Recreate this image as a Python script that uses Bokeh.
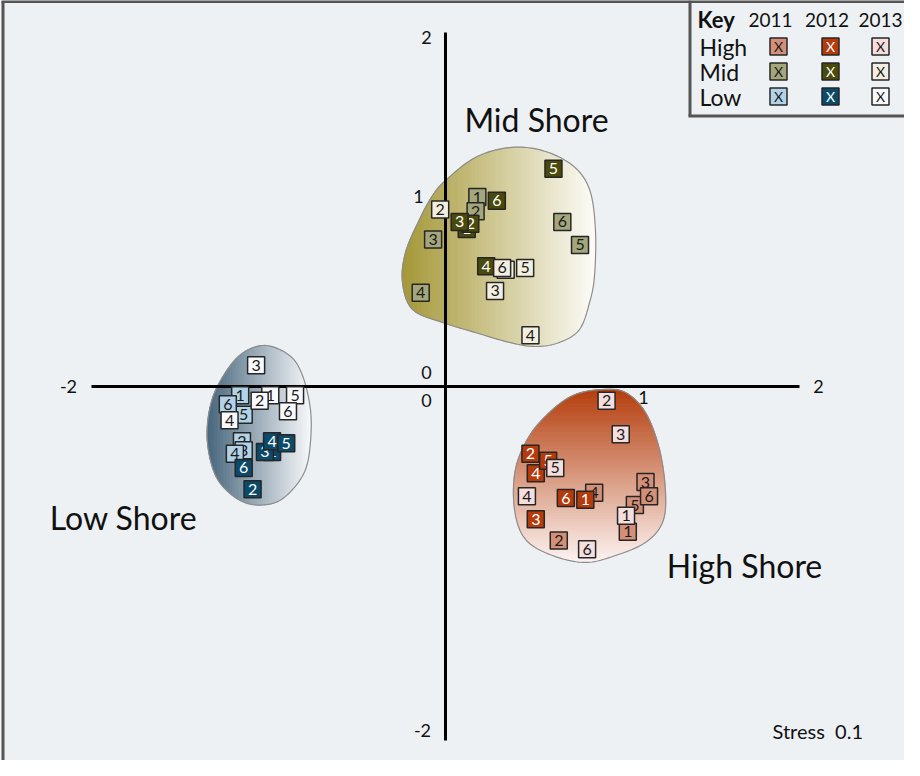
import numpy as np
from bokeh.plotting import figure
from bokeh.models import Range1d
from bokeh.embed import file_html
from bokeh.resources import INLINE
from bokeh.core.properties import value

# ---------------- data (NMDS coordinates) ----------------
sites = ["1", "2", "3", "4", "5", "6"]
years = ["2011", "2012", "2013"]
zones = ["High", "Mid", "Low"]

high_2011_x = [1.03, 0.64, 1.13, 0.84, 1.07, 1.15]
high_2011_y = [-0.82, -0.87, -0.54, -0.60, -0.67, -0.62]
high_2012_x = [0.79, 0.48, 0.51, 0.51, 0.58, 0.68]
high_2012_y = [-0.64, -0.38, -0.75, -0.49, -0.42, -0.63]
high_2013_x = [1.02, 0.91, 0.99, 0.46, 0.62, 0.80]
high_2013_y = [-0.73, -0.08, -0.27, -0.62, -0.46, -0.92]

mid_2011_x = [0.18, 0.17, -0.07, -0.14, 0.76, 0.66]
mid_2011_y = [1.07, 0.99, 0.83, 0.53, 0.80, 0.93]
mid_2012_x = [0.12, 0.14, 0.08, 0.23, 0.61, 0.29]
mid_2012_y = [0.89, 0.92, 0.93, 0.68, 1.23, 1.05]
mid_2013_x = [0.34, -0.03, 0.28, 0.48, 0.45, 0.32]
mid_2013_y = [0.66, 1.00, 0.54, 0.29, 0.67, 0.67]

low_2011_x = [-1.16, -1.15, -1.14, -1.19, -1.14, -1.23]
low_2011_y = [-0.05, -0.31, -0.36, -0.38, -0.16, -0.10]
low_2012_x = [-0.98, -1.09, -1.02, -0.98, -0.90, -1.14]
low_2012_y = [-0.37, -0.58, -0.37, -0.31, -0.32, -0.46]
low_2013_x = [-0.99, -1.05, -1.07, -1.22, -0.85, -0.89]
low_2013_y = [-0.05, -0.08, 0.12, -0.19, -0.05, -0.14]

# group outlines (hull shapes around each shore zone)
mid_hull_x = [0.000, 0.169, 0.362, 0.548, 0.718, 0.814, 0.847, 0.842, 0.814, 0.757,
              0.644, 0.508, 0.362, 0.169, -0.017, -0.186, -0.243, -0.226, -0.147, -0.073]
mid_hull_y = [1.164, 1.294, 1.350, 1.333, 1.249, 1.113, 0.887, 0.627, 0.475, 0.322,
              0.249, 0.226, 0.249, 0.305, 0.362, 0.435, 0.588, 0.757, 0.944, 1.079]
low_hull_x = [-1.023, -0.881, -0.808, -0.763, -0.763, -0.791, -0.864, -0.960, -1.090,
              -1.203, -1.299, -1.345, -1.333, -1.277, -1.164]
low_hull_y = [0.232, 0.175, 0.062, -0.130, -0.316, -0.469, -0.582, -0.655, -0.667,
              -0.616, -0.503, -0.316, -0.130, 0.023, 0.175]
high_hull_x = [0.887, 1.017, 1.130, 1.209, 1.243, 1.226, 1.130, 0.960, 0.791, 0.605,
               0.452, 0.390, 0.395, 0.475, 0.605, 0.734]
high_hull_y = [-0.017, -0.034, -0.147, -0.356, -0.599, -0.768, -0.881, -0.955, -0.994,
               -0.955, -0.864, -0.695, -0.469, -0.277, -0.130, -0.045]

zone_labels = ["High Shore", "Mid Shore", "Low Shore"]
stress_label = "Stress\u00a0\u00a00.1"
axis_limit = 2

# ---------------- styling ----------------
BG = "#edf1f4"
FONT = value("Lato")
fills = {
    ("High", "2011"): "#d48f78", ("High", "2012"): "#b53a0c", ("High", "2013"): "#f4dede",
    ("Mid", "2011"): "#a4a67b", ("Mid", "2012"): "#4a4a0c", ("Mid", "2013"): "#f2efe0",
    ("Low", "2011"): "#b2d2e7", ("Low", "2012"): "#0c4a6a", ("Low", "2013"): "#f8f9fa",
}
textc = {"2011": "#1a1a1a", "2012": "#ffffff", "2013": "#1a1a1a"}

# screen-pixel helpers (page px -> data units) for annotations
X0, Y0, S = 453.0, 394.0, 177.0
def px(X):
    return (X - X0) / S
def py(Y):
    return (Y0 - Y) / S

W, H = 904, 760
p = figure(width=W, height=H, output_backend="svg", toolbar_location=None,
           x_range=Range1d(px(8), px(8 + W)), y_range=Range1d(py(8 + H), py(8)),
           x_axis_type=None, y_axis_type=None, min_border=0)
p.grid.visible = False
p.outline_line_color = None
p.background_fill_color = BG
p.border_fill_color = BG

# ---------------- helpers ----------------
def smooth_closed(xs, ys, n=14):
    P = np.column_stack([xs, ys])
    N = len(P)
    out = []
    for i in range(N):
        p0, p1, p2, p3 = P[(i - 1) % N], P[i], P[(i + 1) % N], P[(i + 2) % N]
        for t in np.linspace(0, 1, n, endpoint=False):
            t2, t3 = t * t, t * t * t
            out.append(0.5 * ((2 * p1) + (-p0 + p2) * t + (2 * p0 - 5 * p1 + 4 * p2 - p3) * t2
                              + (-p0 + 3 * p1 - 3 * p2 + p3) * t3))
    out = np.array(out)
    return out[:, 0], out[:, 1]

def clip_half(pts, axis, val, keep_greater):
    res = []
    n = len(pts)
    for i in range(n):
        cur, prev = pts[i], pts[i - 1]
        cin = cur[axis] >= val if keep_greater else cur[axis] <= val
        pin = prev[axis] >= val if keep_greater else prev[axis] <= val
        if cin != pin:
            t = (val - prev[axis]) / (cur[axis] - prev[axis])
            res.append((prev[0] + t * (cur[0] - prev[0]), prev[1] + t * (cur[1] - prev[1])))
        if cin:
            res.append(cur)
    return res

def hexrgb(h):
    h = h.lstrip("#")
    return np.array([int(h[i:i + 2], 16) for i in (0, 2, 4)], float)

def mix(c1, c2, f):
    c = hexrgb(c1) * (1 - f) + hexrgb(c2) * f
    return "#%02x%02x%02x" % tuple(int(round(v)) for v in c)

def gradient_blob(hx, hy, axis, c_start, c_end, nsl=70):
    sx, sy = smooth_closed(hx, hy)
    pts = list(zip(sx, sy))
    coord = sx if axis == 0 else sy
    lo, hi = coord.min(), coord.max()
    edges = np.linspace(lo, hi, nsl + 1)
    xs_l, ys_l, cols = [], [], []
    for k in range(nsl):
        a, b = edges[k], edges[k + 1]
        piece = clip_half(clip_half(pts, axis, a, True), axis, b, False)
        if len(piece) < 3:
            continue
        f = (k + 0.5) / nsl
        if axis == 1:
            f = 1 - f  # top -> bottom
        cols.append(mix(c_start, c_end, f))
        xs_l.append([q[0] for q in piece])
        ys_l.append([q[1] for q in piece])
    p.patches(xs_l, ys_l, fill_color=cols, line_color=cols, line_width=1)
    p.patch(list(sx), list(sy), fill_color=None, line_color="#8c8c8c", line_width=1.2)

# ---------------- hull blobs ----------------
gradient_blob(mid_hull_x, mid_hull_y, 0, "#a49736", "#fdfcf8")
gradient_blob(low_hull_x, low_hull_y, 0, "#46667c", "#f7f8fa")
gradient_blob(high_hull_x, high_hull_y, 1, "#b43e0d", "#fdf4f2")

# ---------------- axes (drawn as cross through origin) ----------------
p.line([-axis_limit, axis_limit], [0, 0], line_color="black", line_width=3)
p.line([0, 0], [-axis_limit, axis_limit], line_color="black", line_width=3)

tick_text = ["-2", "2", "2", "-2", "0", "0", "1", "1"]
tick_x = [px(76), px(826), px(434), px(430), px(434), px(434), px(426), px(651)]
tick_y = [py(394), py(394), py(45), py(738), py(380), py(408), py(204), py(405)]
p.text(tick_x, tick_y, text=tick_text, text_font=FONT, text_font_size="18px",
       text_align="center", text_baseline="middle", text_color="#111111")

# ---------------- points ----------------
data = {
    ("High", "2011"): (high_2011_x, high_2011_y), ("High", "2012"): (high_2012_x, high_2012_y),
    ("High", "2013"): (high_2013_x, high_2013_y),
    ("Mid", "2011"): (mid_2011_x, mid_2011_y), ("Mid", "2012"): (mid_2012_x, mid_2012_y),
    ("Mid", "2013"): (mid_2013_x, mid_2013_y),
    ("Low", "2011"): (low_2011_x, low_2011_y), ("Low", "2012"): (low_2012_x, low_2012_y),
    ("Low", "2013"): (low_2013_x, low_2013_y),
}
for yr in years:
    for z in zones:
        xs, ys = data[(z, yr)]
        for i in range(len(sites)):
            p.scatter([xs[i]], [ys[i]], marker="square", size=17, fill_color=fills[(z, yr)],
                      line_color="#262626", line_width=1.5)
            p.text([xs[i]], [ys[i]], text=[sites[i]], text_font=FONT, text_font_size="16px",
                   text_align="center", text_baseline="middle", text_color=textc[yr])

# ---------------- zone labels ----------------
p.text([px(544), px(131), px(752)], [py(127), py(525), py(573)],
       text=[zone_labels[1], zone_labels[2], zone_labels[0]], text_font=FONT,
       text_font_size="32px", text_align="center", text_baseline="middle", text_color="#111111")

p.text([px(780)], [py(738)], text=[stress_label], text_font=FONT, text_font_size="20px",
       text_align="left", text_baseline="middle", text_color="#111111")

# ---------------- frame ----------------
p.line([px(10.5), px(10.5)], [py(9), py(8 + H)], line_color="#555555", line_width=3)
p.line([px(9), px(8 + W)], [py(9), py(9)], line_color="#555555", line_width=3)

# ---------------- key ----------------
p.line([px(697.5), px(697.5)], [py(8), py(123.5)], line_color="#555555", line_width=3)
p.line([px(696), px(8 + W)], [py(123.5), py(123.5)], line_color="#555555", line_width=3)
p.text([px(705)], [py(27)], text=["Key"], text_font=FONT, text_font_size="22px",
       text_font_style="bold", text_align="left", text_baseline="middle", text_color="#111111")
key_cols = [786, 838, 888]
p.text([px(c) for c in [778, 834.5, 888]], [py(27)] * 3, text=years, text_font=FONT,
       text_font_size="19px", text_align="center", text_baseline="middle", text_color="#111111")
key_rows = [54, 79, 104]
p.text([px(707)] * 3, [py(r) for r in key_rows], text=zones, text_font=FONT,
       text_font_size="23px", text_align="left", text_baseline="middle", text_color="#111111")
for zi, z in enumerate(zones):
    for yi, yr in enumerate(years):
        p.scatter([px(key_cols[yi])], [py(key_rows[zi])], marker="square", size=17,
                  fill_color=fills[(z, yr)], line_color="#262626", line_width=1.5)
        p.text([px(key_cols[yi])], [py(key_rows[zi])], text=["X"], text_font=FONT,
               text_font_size="14px", text_align="center", text_baseline="middle",
               text_color=textc[yr])

html = file_html(p, INLINE)
html = html.replace("<body>", '<body style="background:%s">' % BG, 1)
open("out.html", "w").write(html)
